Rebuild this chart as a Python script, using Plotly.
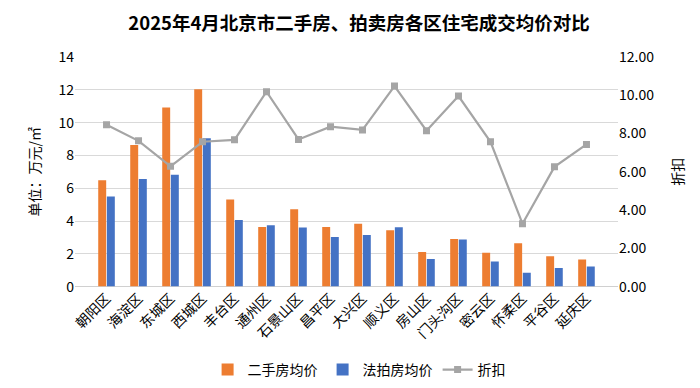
import plotly.graph_objects as go

districts = ["朝阳区", "海淀区", "东城区", "西城区", "丰台区", "通州区", "石景山区", "昌平区",
             "大兴区", "顺义区", "房山区", "门头沟区", "密云区", "怀柔区", "平谷区", "延庆区"]
resale_price = [6.49, 8.63, 10.92, 12.03, 5.31, 3.64, 4.71, 3.64,
                3.84, 3.44, 2.11, 2.91, 2.07, 2.65, 1.85, 1.65]
auction_price = [5.49, 6.56, 6.82, 9.05, 4.06, 3.74, 3.60, 3.02,
                 3.14, 3.62, 1.69, 2.88, 1.53, 0.84, 1.13, 1.22]
discount = [8.46, 7.62, 6.29, 7.57, 7.67, 10.19, 7.69, 8.36,
            8.19, 10.48, 8.15, 9.96, 7.57, 3.29, 6.26, 7.43]

FONT = "Noto Sans CJK SC"

fig = go.Figure()
fig.add_trace(go.Bar(x=districts, y=resale_price, name="二手房均价",
                     marker=dict(color="#ED7D31", line=dict(width=0))))
fig.add_trace(go.Bar(x=districts, y=auction_price, name="法拍房均价",
                     marker=dict(color="#4472C4", line=dict(width=0))))
fig.add_trace(go.Scatter(x=districts, y=discount, name="折扣", yaxis="y2",
                         mode="lines+markers",
                         line=dict(color="#A5A5A5", width=2.2),
                         marker=dict(symbol="square", size=7, color="#A5A5A5")))

fig.update_layout(
    width=700, height=388,
    paper_bgcolor="white", plot_bgcolor="white",
    font=dict(family=FONT, size=14, color="#000000"),
    margin=dict(l=75, r=82, t=57, b=99),
    title=dict(text="<b>2025年4月北京市二手房、拍卖房各区住宅成交均价对比</b>",
               x=0.513, xref="container", xanchor="center",
               y=1 - 24 / 388, yref="container", yanchor="middle",
               font=dict(size=18.5, family=FONT, color="#000000")),
    barmode="group", bargap=0.46, bargroupgap=0.08,
    xaxis=dict(tickangle=-45, showgrid=False, showline=False, ticks="",
               tickfont=dict(size=14, family=FONT)),
    yaxis=dict(range=[0, 14], dtick=2, showgrid=True, gridcolor="#D9D9D9", gridwidth=1,
               zeroline=True, zerolinecolor="#D0D0D0", zerolinewidth=1,
               tickfont=dict(size=14), ticks="",
               title=dict(text="单位：万元/㎡", font=dict(size=14), standoff=14)),
    yaxis2=dict(range=[0, 12], dtick=2, overlaying="y", side="right", showgrid=False,
                zeroline=False, tickformat=".2f", tickfont=dict(size=14), ticks="",
                title=dict(text="折扣", font=dict(size=14), standoff=20)),
    legend=dict(orientation="h", xref="container", yref="container",
                x=0.513, xanchor="center", y=1 - 370 / 388, yanchor="middle",
                font=dict(size=14), itemwidth=30, tracegroupgap=0),
)

fig.write_html(
    "out.html",
    config={"displayModeBar": False},
    post_script="document.body.style.margin='0';document.body.style.overflow='hidden';",
)
